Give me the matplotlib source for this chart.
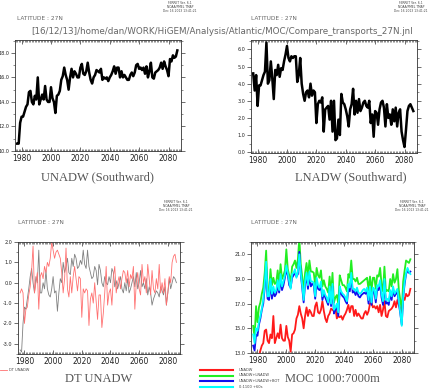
import numpy as np
import matplotlib
matplotlib.use('Agg')
import matplotlib.pyplot as plt
from matplotlib.ticker import MultipleLocator, FixedLocator, FormatStrFormatter

years = list(range(1977, 2087))

unadw = [10.6, 10.6, 12.3, 12.8, 12.8, 13.2, 13.6, 13.8, 14.8, 14.9,
         14.0, 13.8, 14.5, 14.2, 16.0, 13.8, 14.2, 14.6, 14.2, 15.3,
         14.2, 14.0, 14.0, 15.2, 14.3, 14.0, 13.1, 14.5, 14.6, 14.9,
         15.8, 16.1, 16.8, 16.2, 15.8, 15.0, 16.0, 16.7, 16.0, 16.5,
         16.3, 16.0, 16.0, 16.8, 17.1, 16.3, 16.2, 16.5, 17.2, 16.4,
         15.8, 15.5, 16.0, 16.2, 16.6, 16.5, 16.4, 16.7, 15.8, 16.0,
         15.9, 16.0, 15.7, 16.0, 16.2, 16.5, 16.9, 16.3, 16.8, 16.8,
         16.0, 16.5, 16.0, 16.2, 16.0, 15.8, 15.8, 16.2, 16.4, 16.1,
         16.4, 17.0, 17.1, 16.7, 16.8, 16.6, 16.8, 16.3, 16.9, 16.0,
         16.5, 17.2, 16.0, 15.9, 16.4, 16.5, 16.6, 16.8, 17.2, 16.7,
         17.3, 16.9, 16.6, 16.1, 17.5, 17.3, 17.8, 17.6, 17.7, 18.2]

lnadw = [4.6, 3.6, 4.5, 2.7, 3.9, 3.9, 4.2, 4.5, 4.7, 6.4,
         4.0, 4.2, 5.3, 4.3, 3.1, 4.8, 4.5, 5.1, 4.4, 4.9,
         4.8, 5.3, 5.7, 6.2, 5.5, 5.3, 5.6, 5.5, 5.6, 5.6,
         4.1, 4.5, 5.5, 4.0, 3.4, 3.0, 3.5, 3.6, 3.2, 4.0,
         3.3, 3.6, 3.5, 1.7, 2.8, 3.0, 2.9, 3.2, 1.2, 2.5,
         2.6, 2.7, 1.9, 3.0, 1.2, 3.0, 0.7, 0.8, 1.9, 1.0,
         3.4, 2.9, 2.8, 2.5, 2.1, 1.5, 2.5, 2.8, 3.7, 2.2,
         3.0, 2.3, 3.1, 2.4, 2.6, 2.9, 3.0, 2.7, 2.6, 3.0,
         1.7, 2.2, 0.9, 2.4, 2.3, 1.6, 2.5, 2.9, 3.0, 2.6,
         1.5, 2.8, 2.0, 2.2, 1.6, 2.5, 1.8, 2.6, 1.5, 2.3,
         2.5, 1.2, 0.7, 0.3, 1.3, 2.4, 2.7, 2.8, 2.6, 2.4]

dt_unadw = [-0.5, -0.3, -0.5, -2.0, -1.3, -1.2, -0.6, -0.2, 0.6, 1.8,
            -0.5, 0.0, 0.5, -1.3, 0.3, 0.5, 0.2, 0.8, 0.5, 1.0,
            0.8, 1.2, 2.0, 1.6, 1.2, 1.5, 1.6, 1.4, 1.2, 0.5,
            -0.5, 0.2, 1.7, -0.3, -0.7, 0.3, -0.5, 0.3, 0.8, 0.2,
            -0.4, 0.3, 0.2, -1.7, -0.3, -0.5, -0.3, -0.4, -2.1, -0.8,
            -0.5, -1.0, 0.0, -0.9, -1.8, -0.6, -0.6, -2.2, -1.5, -0.5,
            0.8, -1.1, -0.5, -0.3, -1.1, 0.3, 0.8, -0.5, 0.0, 0.3,
            -0.3, 0.2, 0.6, 0.5, 0.0, 0.6, -0.2, 0.4, 0.2, 0.8,
            -1.3, 0.0, 0.5, -0.3, -0.6, 0.9, 0.0, 0.3, -0.5, 0.9,
            0.2, -0.6, 0.6, -0.3, -0.5, 0.2, -0.3, 0.9, -0.5, 0.0,
            -0.5, 0.2, -1.1, -0.5, 0.3, 0.0, 1.0, 1.3, 1.4, 1.0]

dt_lnadw = [-3.3, -3.4, -2.0, -1.2, -1.3, -0.8, -0.3, 0.3, 0.7, 0.0,
            -0.5, 0.3, 0.0, 1.6, -0.5, -0.5, 0.0, -0.3, 0.6, -0.3,
            -0.6, -0.7, -0.3, 0.3, -0.5, -0.4, -1.4, -0.5, 0.2, 0.0,
            1.0, 0.5, 0.8, 1.2, 0.5, 0.4, 1.2, 0.8, 1.4, 1.2,
            0.7, 0.8, 1.1, 0.9, 1.6, 0.9, 0.7, 1.6, 0.8, 0.5,
            0.2, 0.3, 0.8, 0.6, -0.1, 0.9, 0.6, 0.0, -0.2, 0.3,
            0.0, -0.1, 0.3, 0.0, 0.7, 0.5, -0.2, 0.1, -0.3, 0.0,
            0.3, -0.3, -0.5, 0.0, -0.4, 0.2, -0.5, -0.3, 0.0, 0.3,
            -0.2, 0.5, -0.3, 0.0, 0.6, -0.2, 0.0, -0.3, 0.2, -0.6,
            -0.2, -0.5, -1.1, -0.8, -0.6, -0.4, -0.5, -0.7, -0.2, -0.4,
            -0.6, -0.2, -1.1, -0.5, 0.2, -0.3, 0.0, 0.3, 0.2, 0.0]

unadw_lnadw = [15.2, 14.2, 16.8, 15.5, 16.7, 17.1, 17.8, 18.3, 19.5, 21.3,
               18.0, 18.0, 19.8, 18.5, 19.1, 18.6, 18.7, 19.7, 18.6, 20.2,
               19.0, 19.3, 19.7, 21.4, 19.8, 19.3, 18.7, 20.0, 20.2, 20.5,
               19.9, 20.6, 22.3, 20.2, 19.2, 18.0, 19.5, 20.3, 19.2, 20.5,
               19.6, 19.6, 19.5, 18.5, 19.9, 19.3, 19.1, 19.7, 18.4, 18.9,
               18.4, 18.2, 17.9, 19.2, 17.8, 19.5, 17.1, 17.5, 17.7, 17.0,
               19.3, 18.9, 18.5, 18.5, 18.3, 18.0, 19.4, 19.1, 20.5, 19.0,
               19.0, 18.8, 19.1, 18.6, 18.6, 18.7, 18.8, 18.9, 19.0, 19.1,
               18.1, 19.2, 18.0, 19.1, 19.1, 18.2, 19.3, 19.2, 19.9, 18.6,
               18.0, 20.0, 18.0, 18.1, 18.0, 19.0, 18.4, 19.4, 18.7, 19.0,
               19.8, 18.1, 17.3, 16.4, 18.8, 19.7, 20.5, 20.4, 20.3, 20.6]

unadw_lnadw_bot = [13.6, 13.2, 14.5, 14.4, 15.3, 15.8, 16.5, 17.0, 18.3, 20.0,
                   17.4, 17.3, 18.8, 17.4, 18.0, 17.6, 17.8, 18.6, 17.9, 19.0,
                   18.1, 18.5, 19.1, 19.8, 19.3, 18.5, 18.3, 19.1, 19.3, 19.5,
                   19.2, 19.4, 21.2, 19.4, 18.3, 17.1, 18.6, 19.2, 18.2, 19.3,
                   18.4, 18.6, 18.5, 17.4, 18.8, 18.2, 18.1, 18.5, 17.3, 17.8,
                   17.5, 17.2, 16.9, 18.1, 16.8, 18.4, 16.2, 16.5, 16.8, 16.0,
                   18.1, 17.8, 17.6, 17.5, 17.2, 17.0, 18.3, 18.0, 19.2, 17.9,
                   18.0, 17.7, 18.0, 17.6, 17.5, 17.7, 17.8, 17.9, 17.8, 18.0,
                   17.0, 18.1, 16.9, 18.0, 18.0, 17.1, 18.2, 18.1, 18.7, 17.5,
                   16.9, 18.8, 17.0, 17.1, 16.9, 17.8, 17.3, 18.2, 17.6, 17.8,
                   18.0, 17.0, 16.2, 15.3, 17.5, 18.6, 19.4, 19.7, 19.5, 19.6]

moc_0_1100 = [14.5, 13.8, 15.0, 14.8, 15.5, 16.0, 16.6, 17.3, 18.6, 20.4,
              17.6, 17.6, 19.0, 17.8, 18.4, 17.9, 18.1, 18.9, 18.1, 19.4,
              18.4, 18.8, 19.3, 20.1, 19.5, 18.8, 18.2, 19.4, 19.5, 19.8,
              19.1, 19.6, 21.0, 19.5, 18.5, 17.3, 18.8, 19.5, 18.5, 19.6,
              18.8, 18.8, 18.7, 17.6, 19.1, 18.5, 18.3, 18.8, 17.6, 18.1,
              17.7, 17.5, 17.1, 18.4, 17.0, 18.6, 16.5, 16.7, 17.0, 16.3,
              18.4, 18.0, 17.8, 17.7, 17.5, 17.2, 18.6, 18.3, 19.5, 18.2,
              18.2, 18.0, 18.3, 17.9, 17.8, 17.9, 18.1, 18.2, 18.0, 18.3,
              17.3, 18.4, 17.1, 18.3, 18.2, 17.4, 18.5, 18.4, 18.9, 17.8,
              17.2, 19.0, 17.3, 17.4, 17.2, 18.1, 17.6, 18.4, 17.8, 18.0,
              18.2, 17.2, 16.3, 15.2, 17.6, 18.8, 19.5, 19.9, 19.6, 19.4]

titles = ["UNADW (Southward)", "LNADW (Southward)", "DT UNADW", "MOC 1000:7000m"]
legend_labels = ["UNADW", "UNADW+LNADW", "UNADW+LNADW+BOT", "0:1100 +60s"]
header = "[16/12/13]/home/dan/WORK/HiGEM/Analysis/Atlantic/MOC/Compare_transports_27N.jnl"
stamp = "FERRET Ver. 6.1\nNOAA/PMEL TMAP\nDec 16 2013 13:41:21"

W, H = 430, 389
fig = plt.figure(figsize=(W / 100, H / 100), dpi=100)


def add_ax(l, r, t, b):
    return fig.add_axes([l / W, 1 - b / H, (r - l) / W, (b - t) / H])


def style(ax, ylim, yticks, ymin):
    ax.set_xlim(1975.5, 2088.5)
    ax.set_ylim(*ylim)
    ax.xaxis.set_major_locator(MultipleLocator(20))
    ax.xaxis.set_minor_locator(MultipleLocator(1))
    ax.yaxis.set_major_locator(FixedLocator(yticks))
    ax.yaxis.set_minor_locator(MultipleLocator(ymin))
    ax.yaxis.set_major_formatter(FormatStrFormatter('%.1f'))
    ax.tick_params(axis='x', which='both', direction='in', top=True, bottom=True, colors='#333333')
    ax.tick_params(axis='x', which='major', length=3, width=0.5, labelsize=5.5, pad=2.5, labelcolor='#222222')
    ax.tick_params(axis='x', which='minor', length=1.5, width=0.4)
    ax.tick_params(axis='y', which='both', direction='out', left=True, right=True, colors='#333333')
    ax.tick_params(axis='y', which='major', length=3, width=0.5, labelsize=3.5, pad=1, labelcolor='#222222')
    ax.tick_params(axis='y', which='minor', length=1.5, width=0.4)
    for s in ax.spines.values():
        s.set_linewidth(0.6)
        s.set_color('#333333')


def ftext(x, y, s, **kw):
    fig.text(x / W, 1 - y / H, s, **kw)


# Panel 1
ax1 = add_ax(15, 181, 40, 151)
ax1.plot(years, unadw, color='black', lw=1.8)
style(ax1, (10, 19.05), [10, 12, 14, 16, 18], 1)

# Panel 2
ax2 = add_ax(251, 417, 40, 153)
ax2.plot(years, lnadw, color='black', lw=1.8)
style(ax2, (-0.05, 6.55), [0, 1, 2, 3, 4, 5, 6], 0.5)

# Panel 3
ax3 = add_ax(18, 180, 242, 354)
ax3.plot(years, dt_lnadw, color='#808080', lw=0.6)
ax3.plot(years, dt_unadw, color='#ff7070', lw=0.6)
style(ax3, (-3.5, 2.0), [-3, -2, -1, 0, 1, 2], 0.5)

# Panel 4
ax4 = add_ax(251, 414, 242, 353)
cols = ['#ff1a1a', '#22ee22', '#1010ee', '#00ffff']
ax4.plot(years, unadw, color=cols[0], lw=1.3)
ax4.plot(years, unadw_lnadw, color=cols[1], lw=1.3)
ax4.plot(years, unadw_lnadw_bot, color=cols[2], lw=1.3)
ax4.plot(years, moc_0_1100, color=cols[3], lw=1.3)
style(ax4, (13, 22), [13, 15, 17, 19, 21], 1)

# Titles under panels
tkw = dict(family='Liberation Serif', fontsize=9, color='#555555', ha='center', va='center')
ftext(97, 177, titles[0], **tkw)
ftext(351, 177, titles[1], **tkw)
ftext(99, 379, titles[2], **tkw)
ftext(332, 379, titles[3], **tkw)

# Latitude labels
lkw = dict(fontsize=4.2, color='#666666', ha='left', va='center')
ftext(17, 19, "LATITUDE : 27N", **lkw)
ftext(251, 19, "LATITUDE : 27N", **lkw)
ftext(18, 222, "LATITUDE : 27N", **lkw)
ftext(251, 222, "LATITUDE : 27N", **lkw)

# Header path
ftext(222, 32, header, fontsize=6.3, color='#666666', ha='center', va='center')

# Ferret stamps
skw = dict(fontsize=2.2, color='#444444', ha='center', va='top', linespacing=1.0)
ftext(180, 0.5, stamp, **skw)
ftext(411, 0.5, stamp, **skw)
ftext(176, 200, stamp, **skw)
ftext(412, 200, stamp, **skw)

# Panel 3 legend
fig.add_artist(plt.Line2D([0 / W, 7 / W], [1 - 370 / H, 1 - 370 / H], color='#ff7070', lw=0.6))
ftext(9, 370, "DT UNADW", fontsize=2.6, color='#444444', ha='left', va='center')

# Panel 4 legend
for i, (lab, c) in enumerate(zip(legend_labels, cols)):
    yy = 370 + i * 5.5
    fig.add_artist(plt.Line2D([200 / W, 233 / W], [1 - yy / H, 1 - yy / H], color=c, lw=1.5))
    ftext(239, yy, lab, fontsize=2.6, color='#444444', ha='left', va='center')

fig.savefig('out.png', dpi=100)
